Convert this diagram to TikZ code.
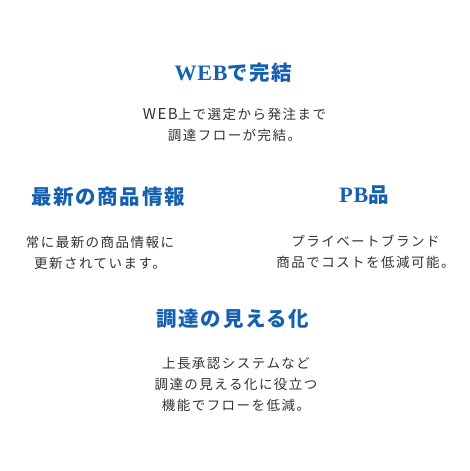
\documentclass[tikz,border=0pt]{standalone}
\usepackage{fontspec}
\newfontfamily\jpbody[LetterSpace=11]{Noto Sans CJK JP}
\newfontfamily\jpbodywide[LetterSpace=10]{Noto Sans CJK JP}
\newfontfamily\jphead[LetterSpace=8]{Noto Sans CJK JP}
\newfontfamily\latserif[LetterSpace=4]{Liberation Serif}
\definecolor{headblue}{HTML}{1560B0}
\definecolor{bodygray}{HTML}{333333}
\tikzset{
  head/.style={text=headblue, font=\jphead\fontsize{20.5}{24}\selectfont\bfseries, inner sep=0pt, anchor=center},
  body/.style={text=bodygray, font=\jpbody\fontsize{13.5}{21}\selectfont, inner sep=0pt, align=center, anchor=center},
}
\begin{document}
\begin{tikzpicture}[x=1pt,y=-1pt]
\useasboundingbox[fill=white] (0,0) rectangle (470,471);
% block 1
\node[head] (h1) at (233.5,73) {{\latserif\bfseries\fontsize{22}{24}\selectfont WEB}で完結};
\node[body] (b1) at (234.5,125) {{\jpbodywide\fontsize{15}{21}\selectfont WEB}上で選定から発注まで\\調達フローが完結。};
% block 2
\node[head] (h2) at (108,197) {最新の商品情報};
\node[body] (b2) at (100,252.5) {常に最新の商品情報に\\更新されています。};
% block 3
\node[head] (h3) at (364,195) {{\latserif\bfseries\fontsize{22}{24}\selectfont PB}品};
\node[body] (b3) at (365.5,251.5) {プライベートブランド\\商品でコストを低減可能。};
% block 4
\node[head] (h4) at (233,319) {調達の見える化};
\node[body] (b4) at (236,384.5) {上長承認システムなど\\調達の見える化に役立つ\\機能でフローを低減。};
\end{tikzpicture}
\end{document}
